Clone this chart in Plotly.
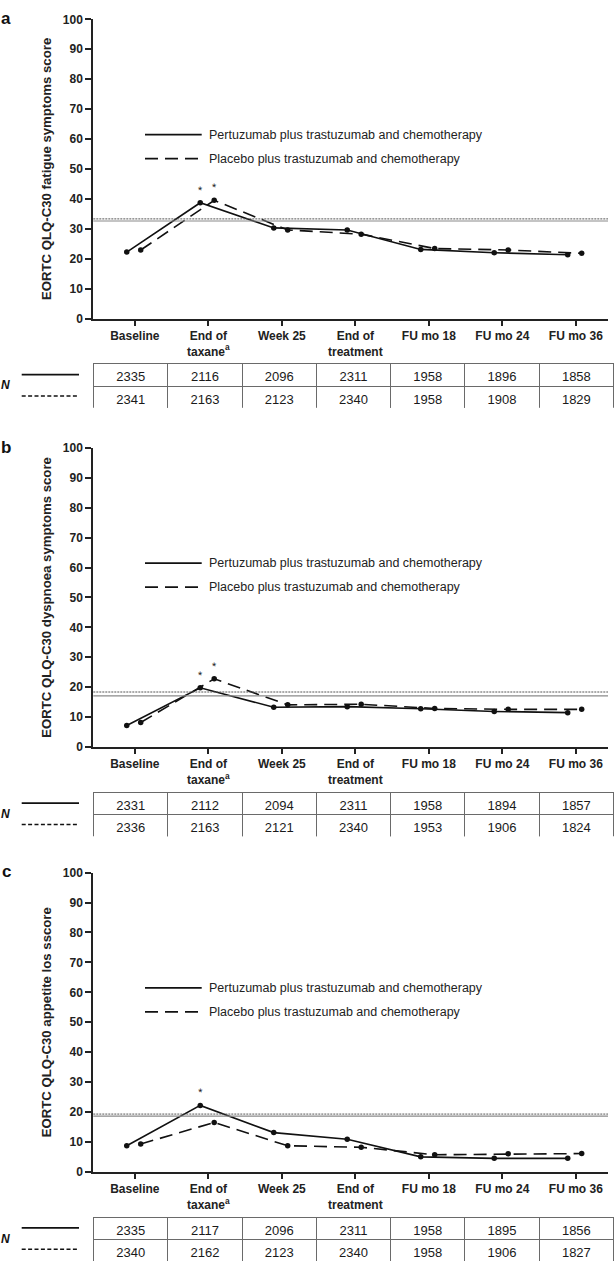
import plotly.graph_objects as go

W, H = 616, 1269

categories = ["Baseline", "End of<br>taxane<sup>a</sup>", "Week 25", "End of<br>treatment",
              "FU mo 18", "FU mo 24", "FU mo 36"]

series_names = ["Pertuzumab plus trastuzumab and chemotherapy",
                "Placebo plus trastuzumab and chemotherapy"]

# Panel a: fatigue
fatigue_pert = [22.2, 38.7, 30.3, 29.6, 23.1, 22.0, 21.3]
fatigue_plac = [22.9, 39.5, 29.6, 28.2, 23.4, 22.9, 21.8]
fatigue_sig_pert = [0, 1, 0, 0, 0, 0, 0]
fatigue_sig_plac = [0, 1, 0, 0, 0, 0, 0]
fatigue_ref = [33.3, 32.6]   # dotted, solid reference lines
fatigue_n_pert = [2335, 2116, 2096, 2311, 1958, 1896, 1858]
fatigue_n_plac = [2341, 2163, 2123, 2340, 1958, 1908, 1829]

# Panel b: dyspnoea
dysp_pert = [7.2, 19.8, 13.3, 13.5, 12.8, 11.9, 11.5]
dysp_plac = [8.2, 22.8, 14.1, 14.3, 12.9, 12.6, 12.6]
dysp_sig_pert = [0, 1, 0, 0, 0, 0, 0]
dysp_sig_plac = [0, 1, 0, 0, 0, 0, 0]
dysp_ref = [18.4, 17.1]
dysp_n_pert = [2331, 2112, 2094, 2311, 1958, 1894, 1857]
dysp_n_plac = [2336, 2163, 2121, 2340, 1953, 1906, 1824]

# Panel c: appetite loss
app_pert = [8.7, 22.2, 13.1, 10.9, 5.0, 4.5, 4.5]
app_plac = [9.3, 16.5, 8.7, 8.2, 5.7, 6.0, 6.1]
app_sig_pert = [0, 1, 0, 0, 0, 0, 0]
app_sig_plac = [0, 0, 0, 0, 0, 0, 0]
app_ref = [19.3, 18.6]
app_n_pert = [2335, 2117, 2096, 2311, 1958, 1895, 1856]
app_n_plac = [2340, 2162, 2123, 2340, 1958, 1906, 1827]

panel_letters = ["a", "b", "c"]
y_titles = ["EORTC QLQ-C30 fatigue symptoms score",
            "EORTC QLQ-C30 dyspnoea symptoms score",
            "EORTC QLQ-C30 appetite los sscore"]

panels = [
    (fatigue_pert, fatigue_plac, fatigue_sig_pert, fatigue_sig_plac, fatigue_ref, fatigue_n_pert, fatigue_n_plac),
    (dysp_pert, dysp_plac, dysp_sig_pert, dysp_sig_plac, dysp_ref, dysp_n_pert, dysp_n_plac),
    (app_pert, app_plac, app_sig_pert, app_sig_plac, app_ref, app_n_pert, app_n_plac),
]

# ---- layout geometry (pixels) ----
offsets = [0, 433.3, 862.8]
FONT = "Liberation Sans, Arial, Helvetica, sans-serif"
INK = "#222222"
dodge = [-0.11, 0.08]
dash_long = "13px,7px"


def xp(px):
    return min(1.0, max(0.0, px / W))


def yp(py):
    return min(1.0, max(0.0, 1 - py / H))


fig = go.Figure()
shapes = []
annotations = []
layout_axes = {}

for k, (pert, plac, sigp, sigq, ref, n1, n2) in enumerate(panels):
    off = offsets[k]
    ax = "" if k == 0 else str(k + 1)
    xname, yname = "x" + ax, "y" + ax
    idx = list(range(len(categories)))

    for s, (vals, sig) in enumerate([(pert, sigp), (plac, sigq)]):
        xs = [i + dodge[s] for i in idx]
        fig.add_trace(go.Scatter(
            x=xs, y=vals, mode="lines+markers", name=series_names[s],
            showlegend=False, xaxis=xname, yaxis=yname,
            line=dict(color="#111111", width=1.6, dash="solid" if s == 0 else dash_long),
            marker=dict(color="#111111", size=5.5),
            hoverinfo="skip"))
        for i, f in enumerate(sig):
            if f:
                annotations.append(dict(
                    x=xs[i], y=vals[i], xref=xname, yref=yname, text="*",
                    showarrow=False, yshift=13, textangle=2, opacity=0.99,
                    font=dict(family=FONT, size=11, color="#222222")))

    # reference lines
    shapes.append(dict(type="line", xref=xname + " domain", yref=yname, x0=0, x1=1,
                       y0=ref[0], y1=ref[0], line=dict(color="#555555", width=1, dash="2px,1px")))
    shapes.append(dict(type="line", xref=xname + " domain", yref=yname, x0=0, x1=1,
                       y0=ref[1], y1=ref[1], line=dict(color="#8a8a8a", width=1.2)))

    layout_axes["xaxis" + ax] = dict(
        domain=[xp(93.3), xp(608)], range=[-0.565, 6.438], anchor=yname,
        tickmode="array", tickvals=idx, ticktext=categories,
        ticks="outside", ticklen=5, tickwidth=1.5, tickcolor=INK,
        showline=True, linewidth=2, linecolor=INK, showgrid=False, zeroline=False,
        tickfont=dict(family=FONT, size=12, color=INK, weight="bold"), fixedrange=True)
    layout_axes["yaxis" + ax] = dict(
        domain=[yp(315 + off), yp(12.5 + off)], range=[0, 100], anchor=xname,
        dtick=10, tick0=0, ticks="outside", ticklen=6, tickwidth=1.5, tickcolor=INK,
        showline=True, linewidth=2, linecolor=INK, showgrid=False, zeroline=False,
        tickfont=dict(family=FONT, size=12, color=INK, weight="bold"),
        title=dict(text=y_titles[k], standoff=8,
                   font=dict(family=FONT, size=13.2, color=INK, weight="bold")),
        fixedrange=True)

    # panel letter
    annotations.append(dict(x=xp(6), y=yp(0 + off), xref="paper", yref="paper", text=panel_letters[k],
                            showarrow=False, xanchor="center", yanchor="top",
                            font=dict(family=FONT, size=17, color="#111111", weight="bold")))

    # in-plot legend
    shapes.append(dict(type="line", xref="paper", yref="paper", x0=xp(145), x1=xp(201.7),
                       y0=yp(129 + off), y1=yp(129 + off), line=dict(color="#111111", width=1.6)))
    shapes.append(dict(type="line", xref="paper", yref="paper", x0=xp(145), x1=xp(199),
                       y0=yp(153.3 + off), y1=yp(153.3 + off),
                       line=dict(color="#111111", width=1.6, dash=dash_long)))
    for j, ly in enumerate([129, 153.3]):
        annotations.append(dict(x=xp(207.3), y=yp(ly + off), xref="paper", yref="paper",
                                text=series_names[j], showarrow=False, xanchor="left", yanchor="middle",
                                font=dict(family=FONT, size=12.5, color=INK)))

    # N table
    t_top, t_bot = 360.7 + off, 405.5 + off
    fig.add_trace(go.Table(
        domain=dict(x=[xp(93.5), xp(613.5)], y=[yp(t_bot + 0.5), yp(t_top)]),
        columnwidth=[1] * len(categories),
        header=dict(values=[str(v) for v in n1], height=22.4, align="center",
                    line=dict(color="#6a6a6a", width=1), fill=dict(color="white"),
                    font=dict(family=FONT, size=13, color="#1a1a1a")),
        cells=dict(values=[[str(v)] for v in n2], height=22.4, align="center",
                   line=dict(color="#6a6a6a", width=1), fill=dict(color="white"),
                   font=dict(family=FONT, size=13, color="#1a1a1a"))))

    # table row keys
    shapes.append(dict(type="line", xref="paper", yref="paper", x0=xp(21.7), x1=xp(79),
                       y0=yp(371.7 + off), y1=yp(371.7 + off), line=dict(color="#111111", width=1.6)))
    shapes.append(dict(type="line", xref="paper", yref="paper", x0=xp(21.7), x1=xp(78.3),
                       y0=yp(393.3 + off), y1=yp(393.3 + off),
                       line=dict(color="#111111", width=1.4, dash="4px,2.4px")))
    annotations.append(dict(x=xp(5.5), y=yp(382.7 + off), xref="paper", yref="paper", text="N",
                            showarrow=False, xanchor="center", yanchor="middle",
                            font=dict(family=FONT, size=12, color="#111111", weight="bold", style="italic")))

fig.update_layout(
    width=W, height=H, margin=dict(l=0, r=0, t=0, b=0),
    paper_bgcolor="white", plot_bgcolor="white",
    shapes=shapes, annotations=annotations, showlegend=False,
    font=dict(family=FONT, color=INK),
    **layout_axes)

fig.write_html("out.html", config={"displayModeBar": False},
               post_script="document.body.style.margin='0px';")
